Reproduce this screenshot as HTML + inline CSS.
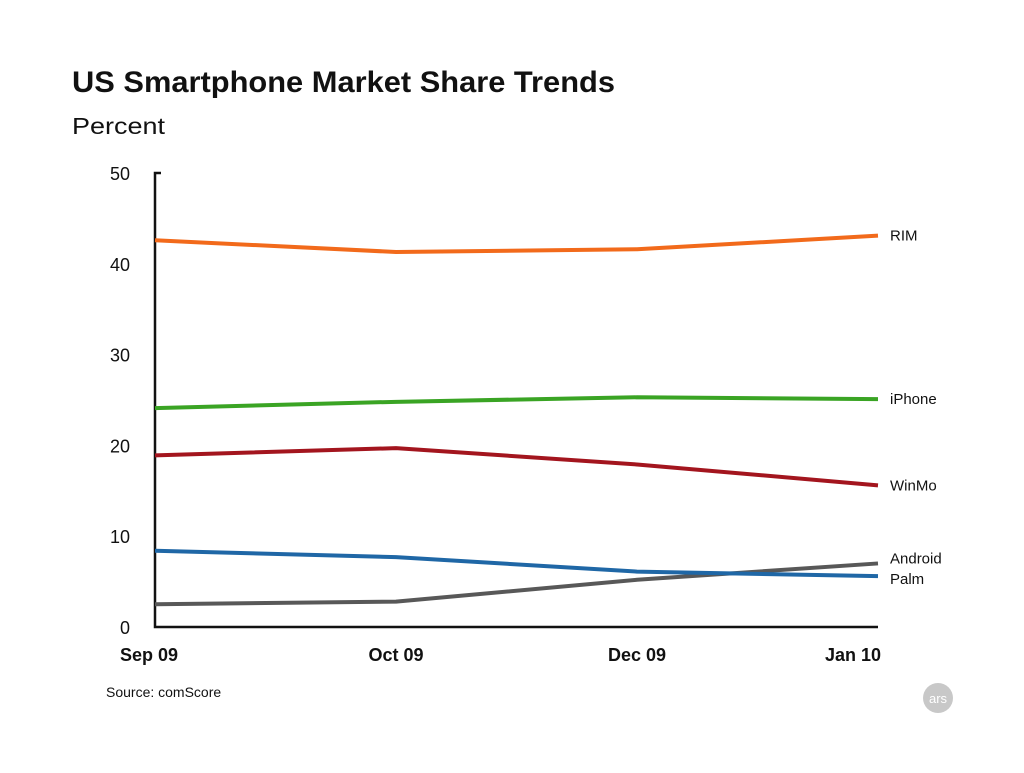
<!DOCTYPE html>
<html><head><meta charset="utf-8"><style>
body{margin:0;background:#fff;width:1024px;height:768px;overflow:hidden;font-family:"Liberation Sans",sans-serif}
svg text{font-family:"Liberation Sans",sans-serif}
</style></head><body>
<svg width="1024" height="768">
<text x="72" y="92" font-size="30" font-weight="bold" fill="#111" textLength="543" lengthAdjust="spacingAndGlyphs">US Smartphone Market Share Trends</text>
<text x="72" y="134" font-size="23" fill="#111" textLength="93" lengthAdjust="spacingAndGlyphs">Percent</text>
<g id="axes"></g>
<g id="lines"></g>
<text x="106" y="697" font-size="14" fill="#111">Source: comScore</text>
<circle cx="938" cy="698" r="15" fill="#c8c8c8"/>
<text x="938" y="703" font-size="13" fill="#fff" text-anchor="middle">ars</text>
</svg>
<script>
const categories=["Sep 09","Oct 09","Dec 09","Jan 10"];
const yTicks=[0,10,20,30,40,50];
const seriesNames=["RIM","iPhone","WinMo","Android","Palm"];
const rim=[42.6,41.3,41.6,43.1];
const iphone=[24.1,24.8,25.3,25.1];
const winmo=[18.9,19.7,17.9,15.6];
const android=[2.5,2.8,5.2,7.0];
const palm=[8.4,7.7,6.1,5.6];
const colors=["#f26a1b","#3aa424","#a3151e","#585858","#1f67a6"];
const x0=155,x1=878,y0=627,y1=173;
const xs=i=>x0+(x1-x0)*i/(categories.length-1);
const ys=v=>y0-(y0-y1)*v/50;
const NS="http://www.w3.org/2000/svg";
const ax=document.getElementById('axes'),ln=document.getElementById('lines');
function mk(tag,attrs,parent){const e=document.createElementNS(NS,tag);for(const k in attrs)e.setAttribute(k,attrs[k]);parent.appendChild(e);return e;}
let e=mk('path',{d:`M${x0+6} ${y1}H${x0}V${y0}H${x1}`,stroke:'#111','stroke-width':2.5,fill:'none'},ax);


yTicks.forEach(t=>{const tx=mk('text',{x:130,y:ys(t)+7,'font-size':18,fill:'#111','text-anchor':'end'},ax);tx.textContent=t;

});
categories.forEach((c,i)=>{let a=i==0?'start':(i==categories.length-1?'end':'middle');let px=xs(i)+(i==0?-35:(i==categories.length-1?3:0));
const tx=mk('text',{x:px,y:661,'font-size':18,'font-weight':'bold',fill:'#111','text-anchor':a},ax);tx.textContent=c;

});
const data=[rim,iphone,winmo,android,palm];
const labOff=[0,0,0,-5,3];
data.forEach((s,k)=>{const p=mk('polyline',{points:s.map((v,i)=>xs(i)+','+ys(v)).join(' '),stroke:colors[k],'stroke-width':4,fill:'none','stroke-linejoin':'round'},ln);


const t=mk('text',{x:890,y:ys(s[s.length-1])+5+labOff[k],'font-size':15,fill:'#111'},ln);t.textContent=seriesNames[k];

});
</script>
</body></html>
